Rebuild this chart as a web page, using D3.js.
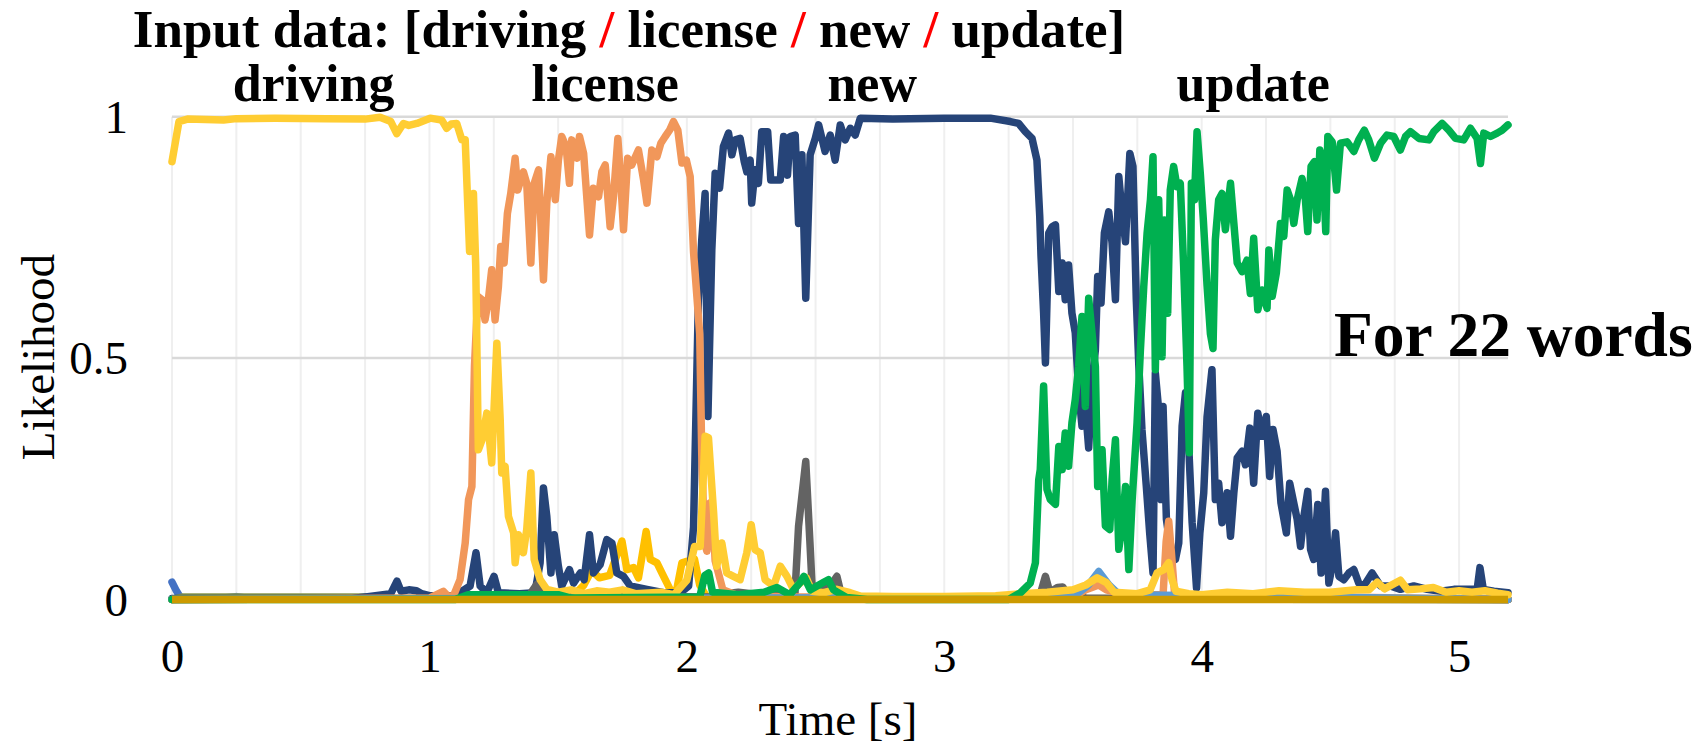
<!DOCTYPE html>
<html>
<head>
<meta charset="utf-8">
<script src="https://cdn.jsdelivr.net/npm/d3@7"></script>
<style>
  body { margin: 0; background: #fff; }
  svg text { font-family: "Liberation Serif", "Times New Roman", serif; fill: #000; }
</style>
</head>
<body>
<div id="chart"></div>
<script>
const width = 1697;
const height = 744;

// [time (s), likelihood] pairs
const lightBlue = [[0,0.036],[0.015,0.02],[0.035,0.002],[0.2,0.003],[0.25,0.006],[0.3,0.002],[5.19,0]];
const olive = [[0,0],[0.04,0.005],[0.4,0.005],[0.75,0.005],[0.8,0.002],[5.19,0]];
const amber = [[0,0],[1.55,0.003],[1.6,0.03],[1.63,0.06],[1.66,0.045],[1.7,0.05],[1.748,0.121],[1.767,0.062],[1.793,0.066],
  [1.812,0.045],[1.842,0.141],[1.858,0.083],[1.884,0.076],[1.903,0.055],[1.935,0.021],[1.955,0.005],[1.981,0.076],[2.0,0.079],
  [2.03,0.083],[2.05,0.03],[2.08,0.003],[5.19,0]];
const newWord = [[0,0.002],[0.7,0.002],[0.76,0.006],[0.85,0.012],[0.874,0.038],[0.89,0.017],[0.92,0.02],[0.95,0.018],[0.97,0.012],
  [1.0,0.008],[1.1,0.008],[1.158,0.028],[1.181,0.097],[1.197,0.028],[1.223,0.014],[1.251,0.048],[1.268,0.014],[1.35,0.012],
  [1.41,0.014],[1.43,0.076],[1.443,0.231],[1.456,0.172],[1.472,0.055],[1.485,0.134],[1.501,0.069],[1.514,0.028],[1.544,0.062],
  [1.56,0.034],[1.586,0.055],[1.601,0.041],[1.622,0.134],[1.637,0.055],[1.663,0.072],[1.689,0.124],[1.709,0.117],[1.728,0.055],
  [1.754,0.048],[1.78,0.028],[1.845,0.021],[1.91,0.014],[1.974,0.014],[2.007,0.028],[2.026,0.15],[2.045,0.621],[2.058,0.745],
  [2.071,0.841],[2.082,0.379],[2.097,0.724],[2.11,0.883],[2.127,0.852],[2.142,0.938],[2.162,0.966],[2.175,0.921],[2.188,0.952],
  [2.207,0.955],[2.223,0.907],[2.233,0.886],[2.246,0.91],[2.252,0.821],[2.265,0.89],[2.278,0.862],[2.291,0.969],[2.314,0.969],
  [2.326,0.869],[2.343,0.869],[2.363,0.869],[2.376,0.959],[2.391,0.879],[2.401,0.959],[2.421,0.962],[2.434,0.779],[2.447,0.921],
  [2.462,0.624],[2.479,0.921],[2.499,0.955],[2.512,0.983],[2.537,0.928],[2.557,0.962],[2.576,0.91],[2.596,0.983],[2.615,0.952],
  [2.635,0.976],[2.654,0.962],[2.674,0.997],[2.8,0.995],[3.0,0.997],[3.179,0.997],[3.257,0.99],[3.289,0.986],[3.315,0.969],
  [3.341,0.955],[3.36,0.91],[3.371,0.793],[3.376,0.71],[3.386,0.593],[3.393,0.49],[3.406,0.759],[3.419,0.772],[3.432,0.776],
  [3.445,0.638],[3.458,0.697],[3.47,0.621],[3.483,0.693],[3.496,0.593],[3.509,0.552],[3.522,0.434],[3.535,0.359],[3.548,0.4],
  [3.561,0.314],[3.574,0.448],[3.587,0.517],[3.596,0.669],[3.609,0.614],[3.622,0.759],[3.639,0.803],[3.652,0.738],[3.665,0.621],
  [3.678,0.876],[3.691,0.8],[3.704,0.741],[3.721,0.924],[3.733,0.897],[3.746,0.621],[3.756,0.483],[3.768,0.352],[3.785,0.234],
  [3.798,0.138],[3.811,0.055],[3.82,0.469],[3.833,0.393],[3.842,0.207],[3.85,0.4],[3.863,0.166],[3.879,0.104],[3.898,0.083],
  [3.911,0.117],[3.924,0.359],[3.937,0.428],[3.95,0.314],[3.963,0.159],[3.98,0.024],[3.993,0.138],[4.008,0.221],[4.021,0.379],
  [4.04,0.476],[4.053,0.207],[4.066,0.241],[4.079,0.159],[4.099,0.221],[4.112,0.131],[4.125,0.221],[4.138,0.293],[4.157,0.307],
  [4.17,0.279],[4.187,0.355],[4.202,0.241],[4.218,0.386],[4.235,0.338],[4.251,0.379],[4.264,0.255],[4.277,0.352],[4.293,0.307],
  [4.308,0.2],[4.329,0.138],[4.342,0.241],[4.355,0.207],[4.371,0.166],[4.384,0.11],[4.397,0.172],[4.412,0.224],[4.423,0.104],
  [4.435,0.083],[4.451,0.197],[4.464,0.055],[4.481,0.224],[4.494,0.034],[4.507,0.069],[4.52,0.138],[4.533,0.048],[4.552,0.041],
  [4.572,0.055],[4.591,0.062],[4.61,0.034],[4.63,0.028],[4.662,0.055],[4.695,0.028],[4.733,0.028],[4.772,0.021],[4.824,0.028],
  [4.876,0.021],[4.928,0.017],[4.98,0.021],[5.031,0.021],[5.07,0.021],[5.081,0.066],[5.094,0.021],[5.135,0.017],[5.19,0.014]];
const grey = [[0,0],[1.38,0.003],[1.417,0.031],[1.44,0.008],[2.1,0.005],[2.15,0.012],[2.2,0.015],[2.25,0.012],[2.3,0.01],
  [2.42,0.012],[2.434,0.152],[2.462,0.286],[2.478,0.12],[2.486,0.034],[2.5,0.015],[2.53,0.02],[2.56,0.03],[2.583,0.048],
  [2.6,0.01],[2.7,0.003],[3.37,0.005],[3.393,0.048],[3.41,0.015],[3.44,0.025],[3.46,0.026],[3.48,0.01],[3.55,0.003],[5.19,0]];
const license = [[0,0],[1.0,0.003],[1.054,0.017],[1.07,0.008],[1.093,0.007],[1.119,0.041],[1.139,0.117],[1.152,0.207],
  [1.165,0.234],[1.175,0.483],[1.188,0.628],[1.204,0.621],[1.216,0.579],[1.229,0.621],[1.242,0.683],[1.255,0.579],[1.268,0.648],
  [1.277,0.731],[1.29,0.697],[1.303,0.8],[1.316,0.841],[1.333,0.914],[1.343,0.848],[1.365,0.886],[1.378,0.862],[1.394,0.697],
  [1.407,0.862],[1.424,0.89],[1.443,0.662],[1.456,0.821],[1.472,0.917],[1.489,0.828],[1.501,0.91],[1.514,0.959],[1.531,0.938],
  [1.544,0.862],[1.553,0.952],[1.573,0.914],[1.583,0.959],[1.599,0.924],[1.622,0.755],[1.637,0.852],[1.657,0.834],[1.67,0.886],
  [1.683,0.9],[1.702,0.772],[1.715,0.834],[1.732,0.955],[1.744,0.862],[1.754,0.766],[1.77,0.914],[1.786,0.9],[1.812,0.931],
  [1.832,0.869],[1.845,0.821],[1.864,0.931],[1.884,0.917],[1.899,0.945],[1.916,0.959],[1.933,0.972],[1.948,0.99],[1.965,0.972],
  [1.981,0.904],[1.998,0.91],[2.013,0.876],[2.026,0.72],[2.039,0.628],[2.05,0.55],[2.058,0.3],[2.068,0.12],[2.078,0.1],
  [2.09,0.2],[2.1,0.18],[2.11,0.08],[2.14,0.02],[2.2,0.008],[2.4,0.005],[3.5,0.005],[3.55,0.02],[3.6,0.03],[3.63,0.02],
  [3.7,0.01],[3.85,0.01],[3.862,0.12],[3.872,0.162],[3.882,0.1],[3.895,0.01],[5.19,0]];
const lightBlue2 = [[0,0],[3.5,0.005],[3.56,0.03],[3.6,0.058],[3.64,0.03],[3.68,0.01],[5.19,0]];
const driving = [[0,0.907],[0.027,0.99],[0.06,0.995],[0.2,0.993],[0.25,0.996],[0.4,0.997],[0.6,0.996],[0.75,0.995],
  [0.808,0.999],[0.85,0.99],[0.873,0.965],[0.899,0.986],[0.92,0.982],[0.951,0.986],[1.003,0.997],[1.048,0.993],[1.067,0.976],
  [1.085,0.985],[1.106,0.986],[1.126,0.952],[1.139,0.952],[1.156,0.721],[1.171,0.841],[1.18,0.69],[1.19,0.31],[1.204,0.33],
  [1.223,0.386],[1.242,0.283],[1.262,0.531],[1.275,0.372],[1.281,0.262],[1.294,0.276],[1.307,0.172],[1.327,0.138],[1.333,0.076],
  [1.346,0.134],[1.365,0.097],[1.378,0.145],[1.394,0.262],[1.407,0.083],[1.43,0.041],[1.456,0.021],[1.5,0.015],[1.55,0.02],
  [1.6,0.012],[1.65,0.018],[1.7,0.015],[1.75,0.02],[1.8,0.012],[1.9,0.015],[1.95,0.01],[2.0,0.04],[2.03,0.11],[2.052,0.11],
  [2.071,0.338],[2.084,0.335],[2.104,0.18],[2.116,0.069],[2.136,0.117],[2.155,0.055],[2.181,0.048],[2.207,0.041],[2.233,0.097],
  [2.25,0.155],[2.265,0.103],[2.285,0.097],[2.304,0.041],[2.337,0.028],[2.363,0.069],[2.389,0.048],[2.414,0.021],[2.44,0.034],
  [2.464,0.045],[2.486,0.017],[2.531,0.014],[2.583,0.021],[2.635,0.014],[2.674,0.007],[2.8,0.006],[3.0,0.006],[3.2,0.008],
  [3.3,0.012],[3.4,0.015],[3.5,0.02],[3.55,0.03],[3.594,0.045],[3.63,0.035],[3.66,0.015],[3.75,0.012],[3.8,0.02],[3.827,0.055],
  [3.853,0.062],[3.872,0.076],[3.885,0.041],[3.9,0.017],[3.95,0.012],[4.0,0.01],[4.1,0.015],[4.2,0.012],[4.3,0.018],[4.4,0.015],
  [4.5,0.015],[4.6,0.02],[4.65,0.02],[4.682,0.036],[4.71,0.022],[4.772,0.04],[4.8,0.02],[4.85,0.022],[4.9,0.025],[4.95,0.015],
  [5.0,0.018],[5.05,0.015],[5.1,0.018],[5.15,0.013],[5.19,0.01]];
const update = [[0,0],[1.1,0],[1.15,0.01],[1.5,0.01],[1.55,0.003],[2.05,0.005],[2.07,0.05],[2.085,0.055],[2.1,0.015],[2.2,0.01],
  [2.3,0.015],[2.35,0.025],[2.4,0.01],[2.44,0.035],[2.455,0.048],[2.48,0.02],[2.53,0.035],[2.55,0.041],[2.57,0.02],[2.62,0.004],
  [2.7,0],[3.25,0],[3.296,0.014],[3.334,0.034],[3.354,0.076],[3.367,0.248],[3.373,0.269],[3.386,0.442],[3.399,0.228],[3.412,0.207],
  [3.432,0.197],[3.445,0.317],[3.458,0.269],[3.47,0.345],[3.483,0.276],[3.496,0.366],[3.509,0.414],[3.522,0.483],[3.535,0.586],
  [3.548,0.4],[3.561,0.624],[3.574,0.552],[3.587,0.483],[3.596,0.234],[3.613,0.31],[3.626,0.152],[3.643,0.145],[3.652,0.248],
  [3.665,0.331],[3.678,0.104],[3.691,0.152],[3.704,0.234],[3.717,0.062],[3.73,0.207],[3.749,0.366],[3.762,0.517],[3.775,0.648],
  [3.788,0.759],[3.801,0.828],[3.811,0.917],[3.82,0.476],[3.833,0.828],[3.846,0.503],[3.855,0.786],[3.868,0.593],[3.878,0.848],
  [3.891,0.897],[3.904,0.855],[3.917,0.862],[3.93,0.69],[3.943,0.483],[3.952,0.304],[3.96,0.862],[3.972,0.828],[3.982,0.969],
  [3.995,0.88],[4.006,0.79],[4.021,0.65],[4.034,0.55],[4.044,0.52],[4.053,0.745],[4.066,0.828],[4.079,0.841],[4.092,0.766],
  [4.112,0.862],[4.125,0.779],[4.138,0.697],[4.157,0.679],[4.176,0.703],[4.189,0.634],[4.202,0.748],[4.218,0.6],[4.235,0.641],
  [4.254,0.603],[4.261,0.724],[4.274,0.628],[4.29,0.676],[4.306,0.779],[4.319,0.752],[4.332,0.848],[4.345,0.828],[4.358,0.779],
  [4.371,0.828],[4.39,0.872],[4.403,0.828],[4.412,0.762],[4.425,0.897],[4.438,0.907],[4.448,0.786],[4.459,0.931],[4.472,0.897],
  [4.482,0.762],[4.49,0.959],[4.507,0.948],[4.524,0.848],[4.539,0.945],[4.565,0.948],[4.591,0.928],[4.61,0.952],[4.632,0.972],
  [4.649,0.952],[4.671,0.914],[4.695,0.945],[4.72,0.962],[4.746,0.959],[4.772,0.931],[4.792,0.959],[4.811,0.969],[4.844,0.955],
  [4.883,0.952],[4.902,0.969],[4.934,0.986],[4.96,0.972],[4.986,0.955],[5.018,0.952],[5.044,0.976],[5.07,0.955],[5.083,0.903],
  [5.096,0.966],[5.122,0.959],[5.148,0.966],[5.167,0.972],[5.19,0.983]];
const others = [[0,0],[5.19,0]];   // remaining words stay at zero

const seriesList = [lightBlue, amber, olive, newWord, grey, license, lightBlue2, driving, update, others];
const seriesColors = ['#4472C4', '#FFC000', '#8C9A4E', '#264478', '#636363', '#F1975A', '#5B9BD5', '#FFCD33', '#00B050', '#CC9A00'];

const xTicks = [0, 1, 2, 3, 4, 5];
const yTicks = [0, 0.5, 1];
const wordLabels = [
  {text: 'driving', t: 0.55},
  {text: 'license', t: 1.683},
  {text: 'new', t: 2.72},
  {text: 'update', t: 4.2}
];
const titleParts = ['Input data: [driving ', '/', ' license ', '/', ' new ', '/', ' update]'];

const xScale = d3.scaleLinear().domain([0, 5.19]).range([172, 1508]);
const yScale = d3.scaleLinear().domain([0, 1]).range([599.5, 116.7]);

const svg = d3.select('#chart').append('svg')
  .attr('width', width)
  .attr('height', height);

svg.append('rect').attr('width', width).attr('height', height).attr('fill', '#fff');

// vertical minor grid every 0.25 s
svg.append('g').selectAll('line').data(d3.range(0, 5.01, 0.25))
  .enter().append('line')
  .attr('x1', d => xScale(d)).attr('x2', d => xScale(d))
  .attr('y1', yScale(1)).attr('y2', yScale(0))
  .attr('stroke', '#efefef').attr('stroke-width', 2);

svg.append('g').selectAll('line').data(yTicks)
  .enter().append('line')
  .attr('x1', xScale(0)).attr('x2', xScale(5.19))
  .attr('y1', d => yScale(d)).attr('y2', d => yScale(d))
  .attr('stroke', '#d9d9d9').attr('stroke-width', 2.5);

const line = d3.line()
  .x(d => xScale(d[0]))
  .y(d => yScale(d[1]));

const last = seriesList.length - 1;
svg.append('g').selectAll('path').data(seriesList)
  .enter().append('path')
  .attr('d', line)
  .attr('fill', 'none')
  .attr('stroke', (d, i) => seriesColors[i])
  .attr('stroke-width', 7.5)
  .attr('stroke-linejoin', 'round')
  .attr('stroke-linecap', (d, i) => i === last ? 'butt' : 'round');

// axes
const xAxis = svg.append('g')
  .attr('transform', 'translate(0,672)')
  .call(d3.axisBottom(xScale).tickValues(xTicks).tickSize(0).tickFormat(d3.format('d')));
xAxis.select('.domain').remove();
xAxis.selectAll('text').attr('y', 0).attr('dy', 0)
  .style('font-size', '47px').style('font-family', '"Liberation Serif", serif');

const yAxis = svg.append('g')
  .attr('transform', 'translate(128,0)')
  .call(d3.axisLeft(yScale).tickValues(yTicks).tickSize(0).tickFormat(d => d));
yAxis.select('.domain').remove();
yAxis.selectAll('text').attr('x', 0).attr('dy', '0.33em')
  .style('font-size', '47px').style('font-family', '"Liberation Serif", serif');

svg.append('text')
  .attr('x', 838).attr('y', 735)
  .attr('text-anchor', 'middle')
  .style('font-size', '47px')
  .text('Time [s]');

svg.append('text')
  .attr('transform', 'translate(54,357) rotate(-90)')
  .attr('text-anchor', 'middle')
  .style('font-size', '47px')
  .text('Likelihood');

// title with red separators
const title = svg.append('text')
  .attr('x', 629).attr('y', 47)
  .attr('text-anchor', 'middle')
  .style('font-size', '53px')
  .style('font-weight', 'bold');
title.selectAll('tspan').data(titleParts)
  .enter().append('tspan')
  .attr('fill', d => d === '/' ? '#FF0000' : '#000')
  .style('white-space', 'pre')
  .text(d => d);

svg.append('g').selectAll('text').data(wordLabels)
  .enter().append('text')
  .attr('x', d => xScale(d.t))
  .attr('y', 101)
  .attr('text-anchor', 'middle')
  .style('font-size', '52px')
  .style('font-weight', 'bold')
  .text(d => d.text);

svg.append('text')
  .attr('x', 1334).attr('y', 356)
  .style('font-size', '63.5px')
  .style('font-weight', 'bold')
  .text('For 22 words');
</script>
</body>
</html>
